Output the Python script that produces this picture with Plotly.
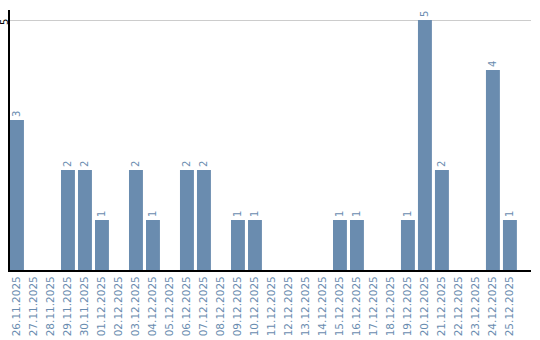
import plotly.graph_objects as go

dates = ["26.11.2025", "27.11.2025", "28.11.2025", "29.11.2025", "30.11.2025",
         "01.12.2025", "02.12.2025", "03.12.2025", "04.12.2025", "05.12.2025",
         "06.12.2025", "07.12.2025", "08.12.2025", "09.12.2025", "10.12.2025",
         "11.12.2025", "12.12.2025", "13.12.2025", "14.12.2025", "15.12.2025",
         "16.12.2025", "17.12.2025", "18.12.2025", "19.12.2025", "20.12.2025",
         "21.12.2025", "22.12.2025", "23.12.2025", "24.12.2025", "25.12.2025"]
counts = [3, 0, 0, 2, 2, 1, 0, 2, 1, 0, 2, 2, 0, 1, 1, 0, 0, 0, 0, 1,
          1, 0, 0, 1, 5, 2, 0, 0, 4, 1]
y_ticks = [5]

BAR = "#6a8caf"
labels = [str(v) if v else "" for v in counts]

fig = go.Figure(go.Bar(
    x=dates, y=counts, text=labels, textposition="outside", textangle=-90,
    textfont=dict(family="DejaVu Sans", size=10, color=BAR),
    marker=dict(color=BAR, line=dict(width=0)), cliponaxis=False,
))

fig.update_layout(
    width=540, height=340, margin=dict(l=10, r=9, t=10, b=70),
    paper_bgcolor="white", plot_bgcolor="white", bargap=0.18,
    showlegend=False,
    font=dict(family="DejaVu Sans"),
)
fig.update_xaxes(
    type="category", range=[-0.41, 30.24], tickangle=-90, automargin=False,
    tickfont=dict(family="DejaVu Sans", size=10.5, color=BAR),
    showline=True, linecolor="black", linewidth=2, ticks="", showgrid=False,
    zeroline=False,
)
fig.update_yaxes(
    range=[0, 5.2], tickvals=y_ticks, showticklabels=False, automargin=False,
    showline=True, linecolor="black", linewidth=2, showgrid=True,
    gridcolor="#cccccc", gridwidth=1, zeroline=False, ticks="",
)
for t in y_ticks:
    fig.add_annotation(
        xref="paper", yref="y", x=-6 / 521, y=t, text=str(t), showarrow=False,
        textangle=-90, xanchor="center", yanchor="middle", yshift=-2,
        font=dict(family="DejaVu Sans", size=10, color="black"),
    )

fig.write_html("out.html")
